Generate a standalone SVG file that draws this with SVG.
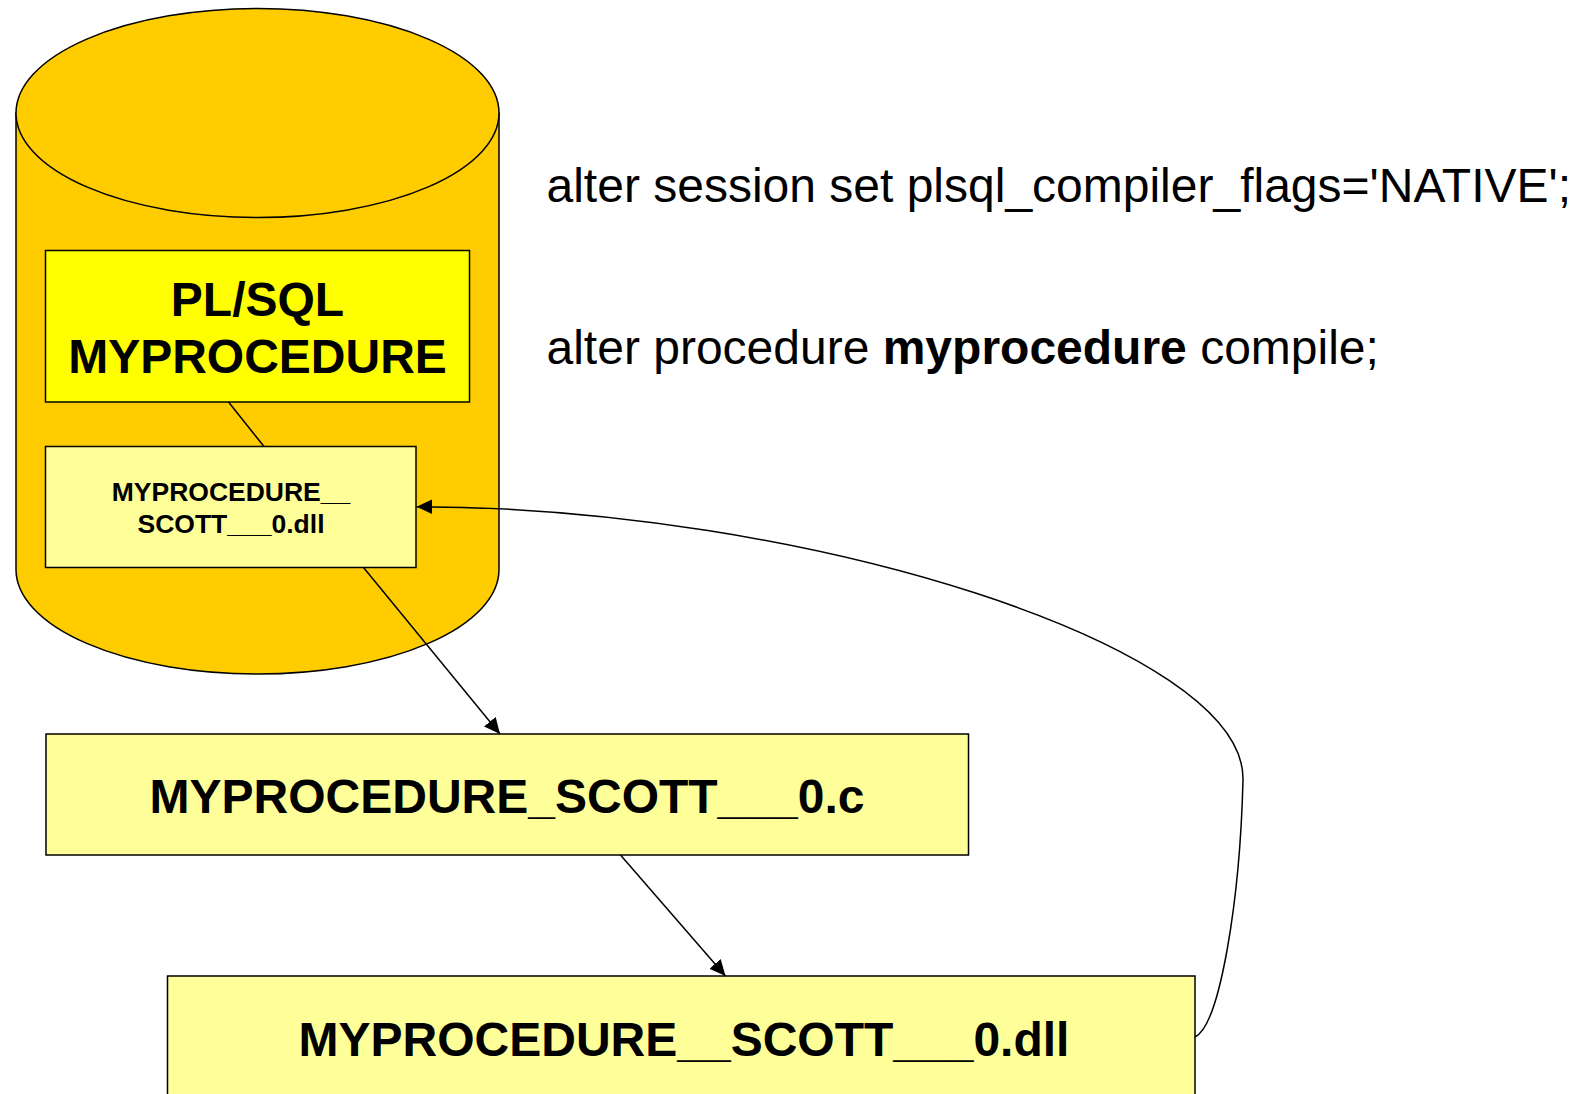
<svg xmlns="http://www.w3.org/2000/svg" width="1587" height="1094" viewBox="0 0 1587 1094">
<style>
  .ln { fill: none; stroke: #000; stroke-width: 1.5; }
  .box { stroke: #000; stroke-width: 1.5; }
  .b { font-family: "Liberation Sans", Arial, sans-serif; font-weight: bold; fill: #000; text-anchor: middle; }
  .r { font-family: "Liberation Sans", Arial, sans-serif; font-size: 48px; fill: #000; }
</style>
<defs>
  <marker id="arr" markerUnits="userSpaceOnUse" markerWidth="18" markerHeight="16" refX="16" refY="7.5" orient="auto">
    <path d="M0,0 L16,7.5 L0,15 Z" fill="#000"/>
  </marker>
</defs>
<rect width="1587" height="1094" fill="#fff"/>

<g id="database">
  <path d="M16,113 L16,569.5 A241.5,104.5 0 0 0 499,569.5 L499,113 Z" fill="#FFCC00" stroke="#000" stroke-width="1.5"/>
  <ellipse cx="257.5" cy="113" rx="241.5" ry="104.5" fill="#FFCC00" stroke="#000" stroke-width="1.5"/>
</g>

<g id="plsql">
  <rect class="box" x="45.5" y="250.5" width="424" height="151.5" fill="#FFFF00"/>
  <text class="b" x="257.5" y="316" font-size="48">PL/SQL</text>
  <text class="b" x="257.5" y="373" font-size="48">MYPROCEDURE</text>
</g>

<g id="dll-in-db">
  <rect class="box" x="45.5" y="446.5" width="370.5" height="121" fill="#FFFF99"/>
  <text class="b" x="231" y="500.5" font-size="26.5">MYPROCEDURE__</text>
  <text class="b" x="231" y="532.5" font-size="26.5">SCOTT___0.dll</text>
</g>

<g id="c-file">
  <rect class="box" x="46" y="734" width="922.5" height="121" fill="#FFFF99"/>
  <text class="b" x="507" y="813" font-size="48">MYPROCEDURE_SCOTT___0.c</text>
</g>

<g id="dll-file">
  <rect class="box" x="167.5" y="976" width="1027.5" height="130" fill="#FFFF99"/>
  <text class="b" x="684" y="1055.5" font-size="48">MYPROCEDURE__SCOTT___0.dll</text>
</g>

<g id="commands">
  <text class="r" x="546.5" y="201.5">alter session set plsql_compiler_flags='NATIVE';</text>
  <text class="r" x="546.5" y="363.5">alter procedure <tspan font-weight="bold">myprocedure</tspan> compile;</text>
</g>

<g id="connectors">
  <line class="ln" x1="228.5" y1="402" x2="264" y2="446.5"/>
  <line class="ln" x1="363.5" y1="567.5" x2="500" y2="734" marker-end="url(#arr)"/>
  <line class="ln" x1="620.5" y1="855" x2="725.5" y2="976" marker-end="url(#arr)"/>
  <path class="ln" d="M1195,1037 C1220,1025 1240,900 1243,780 C1246,645 800,507 416.5,506.7" marker-end="url(#arr)"/>
</g>
</svg>
